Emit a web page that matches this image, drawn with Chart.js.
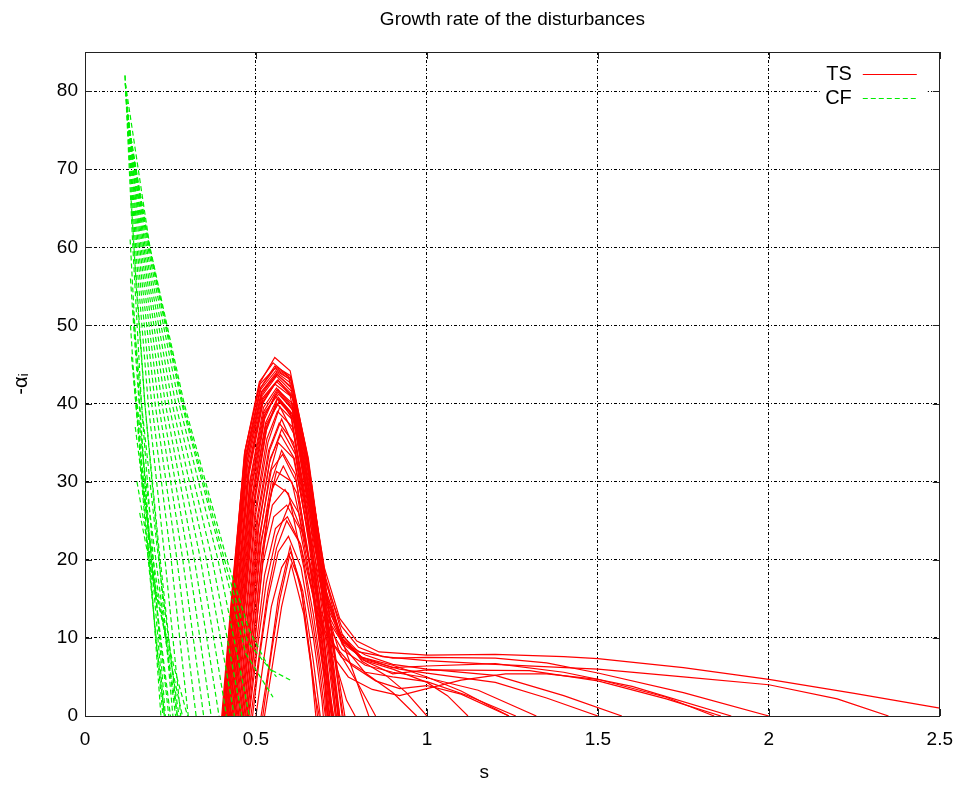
<!DOCTYPE html>
<html><head><meta charset="utf-8">
<script src="https://cdn.jsdelivr.net/npm/chart.js@4.4.1/dist/chart.umd.min.js"></script>
<style>html,body{margin:0;padding:0;background:#fff}</style>
</head><body>
<canvas id="c" width="965" height="787"></canvas>
<script>
const chartTitle = 'Growth rate of the disturbances';
const xAxisTitle = 's';
const yAxisTitle = '-αᵢ';
const xTickValues = [0, 0.5, 1, 1.5, 2, 2.5];
const yTickValues = [0, 10, 20, 30, 40, 50, 60, 70, 80];
const seriesNames = ['TS', 'CF'];

// TS curves that drop straight back to zero after the peak: [s, -alpha_i]
const tsCurves = [
  [[0.400,0],[0.432,17],[0.468,34],[0.512,42.7],[0.555,45.9],[0.600,44.2],[0.645,34.5],[0.690,19],[0.725,6],[0.742,0]],
  [[0.405,0],[0.438,18],[0.470,33.5],[0.513,42],[0.555,44.8],[0.600,43.6],[0.648,33],[0.693,17],[0.728,5],[0.745,0]],
  [[0.415,0],[0.446,16],[0.478,31],[0.520,40.5],[0.565,43.0],[0.610,40.5],[0.655,29],[0.698,14],[0.728,4],[0.740,0]],
  [[0.420,0],[0.452,16],[0.482,30],[0.522,39.5],[0.560,42.0],[0.605,39.5],[0.650,27.5],[0.695,13],[0.722,3.5],[0.732,0]],
  [[0.430,0],[0.460,15],[0.488,28],[0.525,38],[0.555,41.0],[0.600,39],[0.645,27],[0.688,12],[0.712,3],[0.720,0]],
  [[0.440,0],[0.468,14],[0.495,27],[0.530,36.5],[0.560,40.0],[0.605,38],[0.650,26],[0.695,11],[0.718,2.5],[0.726,0]],
  [[0.403,0],[0.436,18],[0.466,33.5],[0.510,42.8],[0.550,45.2],[0.595,43.5],[0.640,34],[0.685,18.5],[0.718,6],[0.735,0]],
  [[0.407,0],[0.440,17.5],[0.471,33],[0.514,41.8],[0.558,44.2],[0.603,43],[0.652,33],[0.702,17],[0.738,6],[0.760,0]],
  [[0.455,0],[0.482,12],[0.508,24],[0.540,32.5],[0.575,36.7],[0.615,33.5],[0.655,22],[0.695,9],[0.715,2],[0.722,0]],
  [[0.465,0],[0.490,11],[0.515,22],[0.545,30],[0.575,34.0],[0.615,31],[0.655,20],[0.692,8],[0.710,1.5],[0.715,0]],
  [[0.475,0],[0.498,10],[0.520,20],[0.535,26],[0.550,29.9],[0.595,28.5],[0.640,19],[0.680,8],[0.700,1],[0.703,0]],
  [[0.515,0],[0.540,7],[0.565,15],[0.600,21.7],[0.635,15.5],[0.670,4],[0.680,0]],
  [[0.525,0],[0.550,7],[0.575,14],[0.603,19.4],[0.640,13],[0.672,3],[0.685,0]],
  [[0.520,0],[0.545,8],[0.570,15],[0.598,20.5],[0.630,17],[0.660,7],[0.675,0]],
  [[0.442,0],[0.470,13],[0.497,26],[0.532,35.5],[0.563,39],[0.607,37],[0.652,25.5],[0.697,11],[0.720,2],[0.727,0]],
  [[0.448,0],[0.476,13],[0.502,25],[0.537,34],[0.568,37.5],[0.610,35],[0.655,23.5],[0.698,10],[0.718,2],[0.724,0]],
  [[0.453,0],[0.480,12.5],[0.506,24],[0.542,33],[0.572,36],[0.612,33],[0.657,22],[0.700,9],[0.722,0]],
  [[0.458,0],[0.484,12],[0.510,23],[0.545,31.5],[0.578,33.5],[0.618,30],[0.660,19],[0.700,7],[0.716,0]],
  [[0.463,0],[0.488,11],[0.513,22],[0.547,29],[0.580,32],[0.620,28.5],[0.662,18],[0.700,6],[0.712,0]],
  [[0.468,0],[0.493,10.5],[0.517,20.5],[0.548,27],[0.585,29],[0.625,26],[0.665,16],[0.700,5],[0.710,0]],
  [[0.473,0],[0.497,10],[0.520,19.5],[0.552,25.5],[0.590,27],[0.628,24],[0.668,15],[0.702,4],[0.708,0]],
  [[0.478,0],[0.502,9.5],[0.525,18],[0.557,24],[0.592,25.5],[0.630,22],[0.668,13],[0.700,3],[0.705,0]],
  [[0.490,0],[0.512,8],[0.535,15],[0.565,21],[0.595,23],[0.632,19],[0.668,10],[0.693,2],[0.697,0]],
  [[0.500,0],[0.522,7],[0.545,14],[0.575,19],[0.602,21],[0.637,16],[0.668,7],[0.688,0]],
  [[0.404,0],[0.437,17.5],[0.470,33],[0.513,42],[0.557,44.6],[0.603,43.2],[0.653,33],[0.703,17],[0.738,5],[0.755,0]],
  [[0.409,0],[0.441,17],[0.474,32.5],[0.517,41.5],[0.562,43.7],[0.608,41.8],[0.658,31],[0.708,15],[0.740,4],[0.752,0]],
  [[0.414,0],[0.446,16.5],[0.477,31.5],[0.519,40.7],[0.563,43],[0.609,41],[0.658,30],[0.707,14],[0.737,3],[0.745,0]],
  [[0.424,0],[0.455,15.5],[0.484,29.5],[0.524,38.8],[0.566,41.2],[0.612,39],[0.660,28],[0.707,13],[0.734,3],[0.740,0]],
  [[0.434,0],[0.463,14.5],[0.491,28],[0.529,37.3],[0.568,40.2],[0.613,38],[0.660,26.5],[0.706,12],[0.730,2],[0.735,0]]
];

// TS curves that keep a long low tail at larger s
const tsTailCurves = [
  [[0.408,0],[0.440,17],[0.472,33],[0.516,41.5],[0.560,44.0],[0.605,42.5],[0.652,32],[0.700,19],[0.745,12.5],[0.795,9.6],[0.860,8.2],[1.000,7.8],[1.200,7.9],[1.400,7.6],[1.500,7.35],[1.750,6.2],[2.000,4.7],[2.250,2.9],[2.500,1.0]],
  [[0.412,0],[0.444,17],[0.475,32],[0.518,41],[0.560,43.5],[0.605,41.5],[0.655,30],[0.705,17],[0.750,11.5],[0.800,8.8],[0.870,7.6],[1.000,7.1],[1.200,6.6],[1.500,6.0],[1.750,5.0],[2.000,4.0],[2.200,2.2],[2.350,0]],
  [[0.418,0],[0.450,16],[0.480,31],[0.520,40],[0.555,42.5],[0.600,41],[0.650,30],[0.700,16.5],[0.748,10.5],[0.800,8.2],[0.900,7.4],[1.000,7.5],[1.200,7.4],[1.350,6.8],[1.500,5.5],[1.750,3.0],[2.000,0]],
  [[0.425,0],[0.456,15],[0.485,29],[0.525,38.5],[0.565,41.5],[0.610,39],[0.655,28],[0.705,15],[0.752,10],[0.810,7.5],[0.900,6.2],[1.000,6.4],[1.200,6.7],[1.400,5.6],[1.600,3.8],[1.890,0]],
  [[0.435,0],[0.464,14],[0.492,27],[0.530,37],[0.570,40.5],[0.615,37.5],[0.660,26],[0.708,14],[0.755,9.5],[0.820,7.0],[0.900,5.4],[1.000,5.9],[1.300,5.8],[1.500,4.5],[1.700,2.2],[1.860,0]],
  [[0.445,0],[0.472,13],[0.500,26],[0.535,35],[0.570,39.6],[0.612,36],[0.658,25],[0.705,13.5],[0.752,9.5],[0.820,7.8],[0.900,6.6],[1.000,6.0],[1.200,5.2],[1.400,2.6],[1.570,0]],
  [[0.450,0],[0.478,13],[0.505,25],[0.540,34],[0.575,38.0],[0.615,34],[0.660,23],[0.708,12.5],[0.755,9.2],[0.820,7.2],[0.920,6.0],[1.000,5.5],[1.200,4.3],[1.350,2.3],[1.500,0]],
  [[0.460,0],[0.486,12],[0.512,23],[0.540,31],[0.565,35.0],[0.610,33],[0.655,23],[0.705,12],[0.752,8.5],[0.820,6.5],[0.900,5.6],[1.000,4.9],[1.150,3.3],[1.320,0]],
  [[0.470,0],[0.495,11],[0.518,21],[0.540,27.5],[0.560,31.3],[0.605,30],[0.650,21],[0.700,11],[0.750,7.5],[0.820,5.6],[0.900,5.0],[1.000,4.4],[1.120,2.6],[1.260,0]],
  [[0.480,0],[0.505,9],[0.530,17],[0.560,23],[0.600,27.4],[0.640,23],[0.685,14],[0.730,9],[0.780,6.5],[0.850,4.5],[0.920,3.5],[1.000,3.9],[1.100,2.8],[1.240,0]],
  [[0.485,0],[0.510,8],[0.535,16],[0.560,21.5],[0.590,25.0],[0.630,22],[0.675,14],[0.720,8],[0.770,5],[0.840,3.4],[0.920,2.6],[1.000,3.5],[1.100,4.6],[1.230,5.4],[1.350,5.4],[1.500,4.7],[1.700,2.4],[1.840,0]],
  [[0.402,0],[0.435,18],[0.469,34],[0.512,42.5],[0.555,44.5],[0.602,43],[0.650,33],[0.700,18],[0.745,10.5],[0.790,5],[0.830,0]],
  [[0.410,0],[0.442,17],[0.473,32.5],[0.517,41.2],[0.560,43.8],[0.606,42],[0.655,31],[0.705,17.5],[0.752,10.5],[0.810,7.0],[0.880,5.2],[0.940,3.0],[1.000,0]],
  [[0.417,0],[0.448,16],[0.479,31.5],[0.520,40.2],[0.560,42.8],[0.605,41],[0.652,30],[0.702,16.5],[0.750,10],[0.810,7.2],[0.900,6.0],[1.000,4.3],[1.060,2.6],[1.120,0]],
  [[0.428,0],[0.458,15],[0.487,29],[0.527,38.6],[0.565,41.8],[0.610,39.5],[0.658,28],[0.706,15],[0.752,9.2],[0.820,5.5],[0.900,3.0],[0.970,0]],
  [[0.438,0],[0.466,14],[0.494,27.5],[0.532,37],[0.565,40.8],[0.610,38.5],[0.655,27],[0.700,14],[0.738,6],[0.765,2],[0.790,0]],
  [[0.422,0],[0.454,15.5],[0.483,30],[0.523,39],[0.562,41.8],[0.607,40],[0.655,29],[0.705,15.5],[0.752,9.8],[0.810,7.5],[0.900,6.5],[1.000,5.0],[1.100,3.2],[1.240,0]],
  [[0.432,0],[0.462,14.5],[0.490,28],[0.528,37.5],[0.562,40.6],[0.606,38.6],[0.652,27.5],[0.700,14.5],[0.745,8],[0.800,4],[0.850,0]]
];

// CF curves (dashed), fanning out from the top near s = 0.12
const cfCurves = [
  [[0.117,82],[0.140,60],[0.165,40],[0.200,20],[0.235,0]],
  [[0.117,82],[0.144,60],[0.175,40],[0.217,20],[0.257,0]],
  [[0.118,81],[0.148,60],[0.185,40],[0.234,20],[0.280,0]],
  [[0.118,81],[0.152,60],[0.195,40],[0.252,20],[0.302,0]],
  [[0.119,80],[0.156,60],[0.205,40],[0.269,20],[0.325,0]],
  [[0.120,80],[0.160,60],[0.215,40],[0.286,20],[0.347,0]],
  [[0.121,79],[0.164,60],[0.225,40],[0.303,20],[0.369,0]],
  [[0.122,78],[0.168,60],[0.235,40],[0.320,20],[0.392,0]],
  [[0.123,78],[0.172,60],[0.245,40],[0.338,20],[0.414,0]],
  [[0.124,77],[0.176,60],[0.255,40],[0.355,20],[0.437,0]],
  [[0.125,77],[0.180,60],[0.265,40],[0.372,20],[0.459,0]],
  [[0.126,76],[0.184,60],[0.275,40],[0.389,20],[0.481,0]],
  [[0.127,76],[0.187,60],[0.283,40],[0.402,20],[0.470,8],[0.550,2.4]],
  [[0.128,75],[0.189,60],[0.286,40],[0.408,20],[0.475,9.5],[0.560,5]],
  [[0.118,81],[0.190,60],[0.290,40],[0.415,20],[0.480,11],[0.540,6],[0.600,4.6]],
  [[0.132,61],[0.148,48],[0.160,40],[0.190,20],[0.222,0]],
  [[0.133,56],[0.150,45],[0.165,36],[0.198,18],[0.232,0]],
  [[0.133,50],[0.145,42],[0.160,34],[0.195,16],[0.228,0]],
  [[0.136,46],[0.170,30],[0.210,14],[0.250,0]],
  [[0.142,44],[0.178,30],[0.222,15],[0.265,0]],
  [[0.150,40],[0.180,26],[0.215,12],[0.245,0]],
  [[0.147,37],[0.185,24],[0.235,10],[0.270,0]],
  [[0.160,33],[0.185,20],[0.215,7],[0.232,0]],
  [[0.152,30],[0.195,19],[0.250,7],[0.285,0]],
  [[0.160,26],[0.205,16],[0.262,6],[0.300,0]],
  [[0.140,52],[0.165,40],[0.210,22],[0.255,6],[0.275,0]],
  [[0.135,66],[0.150,55],[0.175,40],[0.215,22],[0.270,0]]
];

const TS_COLOR = '#ff0000';
const CF_COLOR = '#00ee00';
const FONT = "'Liberation Sans', Arial, sans-serif";

const toXY = c => c.map(p => ({x: p[0], y: p[1]}));
const datasets = [];
tsCurves.concat(tsTailCurves).forEach(c => datasets.push({
  label: seriesNames[0], data: toXY(c), borderColor: TS_COLOR, borderWidth: 1.2,
  pointRadius: 0, fill: false, tension: 0, order: 1
}));
cfCurves.forEach(c => datasets.push({
  label: seriesNames[1], data: toXY(c), borderColor: CF_COLOR, borderWidth: 1.2,
  borderDash: [5, 3], pointRadius: 0, fill: false, tension: 0, order: 0
}));

const framePlugin = {
  id: 'frameAndKey',
  afterDatasetsDraw(chart) {
    const {ctx, chartArea: a, scales: {x, y}} = chart;
    ctx.save();
    // key box
    ctx.fillStyle = '#fff';
    ctx.fillRect(a.right - 120, a.top + 9, 108, 50);
    ctx.font = '20px ' + FONT;
    ctx.fillStyle = '#000';
    ctx.textAlign = 'right';
    ctx.textBaseline = 'middle';
    const rows = [[seriesNames[0], TS_COLOR, []], [seriesNames[1], CF_COLOR, [5, 3]]];
    rows.forEach((r, i) => {
      const cy = a.top + 22 + i * 24;
      ctx.fillText(r[0], a.right - 88, cy);
      ctx.strokeStyle = r[1]; ctx.lineWidth = 1; ctx.setLineDash(r[2]);
      ctx.beginPath(); ctx.moveTo(a.right - 77, cy + 0.5); ctx.lineTo(a.right - 23, cy + 0.5); ctx.stroke();
    });
    // border
    ctx.setLineDash([]);
    ctx.strokeStyle = '#222'; ctx.lineWidth = 1;
    ctx.strokeRect(Math.round(a.left) + 0.5, Math.round(a.top) + 0.5, Math.round(a.right - a.left) - 1, Math.round(a.bottom - a.top));
    // inward ticks
    ctx.beginPath();
    y.ticks.forEach(t => {
      const p = Math.round(y.getPixelForValue(t.value)) + 0.5;
      ctx.moveTo(a.left, p); ctx.lineTo(a.left + 7, p);
      ctx.moveTo(a.right - 7, p); ctx.lineTo(a.right, p);
    });
    x.ticks.forEach(t => {
      const p = Math.round(x.getPixelForValue(t.value)) + 0.5;
      ctx.moveTo(p, a.bottom); ctx.lineTo(p, a.bottom - 7);
      ctx.moveTo(p, a.top); ctx.lineTo(p, a.top + 7);
    });
    ctx.stroke();
    // chart title and x-axis title
    ctx.fillStyle = '#000';
    ctx.textAlign = 'center';
    ctx.textBaseline = 'middle';
    ctx.font = '19px ' + FONT;
    ctx.fillText(chartTitle, (a.left + a.right) / 2, 20);
    ctx.fillText(xAxisTitle, a.left + (a.right - a.left) * 0.467, chart.height - 14);
    ctx.restore();
  }
};

Chart.defaults.font.family = FONT;
new Chart(document.getElementById('c'), {
  type: 'line',
  data: {datasets},
  plugins: [framePlugin],
  options: {
    responsive: false,
    animation: false,
    devicePixelRatio: 1,
    layout: {padding: {top: 52, right: 25, bottom: 0, left: 0}},
    plugins: {
      legend: {display: false},
      tooltip: {enabled: false},
      title: {display: false, text: chartTitle}
    },
    scales: {
      x: {
        type: 'linear', min: 0, max: 2.5,
        afterFit(s) { s.height = 71; },
        afterBuildTicks(s) { s.ticks = xTickValues.map(v => ({value: v})); },
        ticks: {padding: 12, color: '#000', font: {size: 19}, maxRotation: 0, autoSkip: false,
          callback: v => String(v)},
        grid: {color: '#000', lineWidth: 1, drawTicks: false},
        border: {display: true, color: '#222', width: 1, dash: [3, 2, 1, 2]},
        title: {display: false, text: xAxisTitle}
      },
      y: {
        type: 'linear', min: 0, max: 85,
        afterFit(s) { s.width = 85; },
        afterBuildTicks(s) { s.ticks = yTickValues.map(v => ({value: v})); },
        ticks: {padding: 7, color: '#000', font: {size: 19}, autoSkip: false},
        grid: {color: '#000', lineWidth: 1, drawTicks: false},
        border: {display: true, color: '#222', width: 1, dash: [3, 2, 1, 2]},
        title: {display: true, text: yAxisTitle, color: '#000', font: {size: 20}, padding: {top: 9, bottom: 0}}
      }
    }
  }
});
</script>
</body></html>
